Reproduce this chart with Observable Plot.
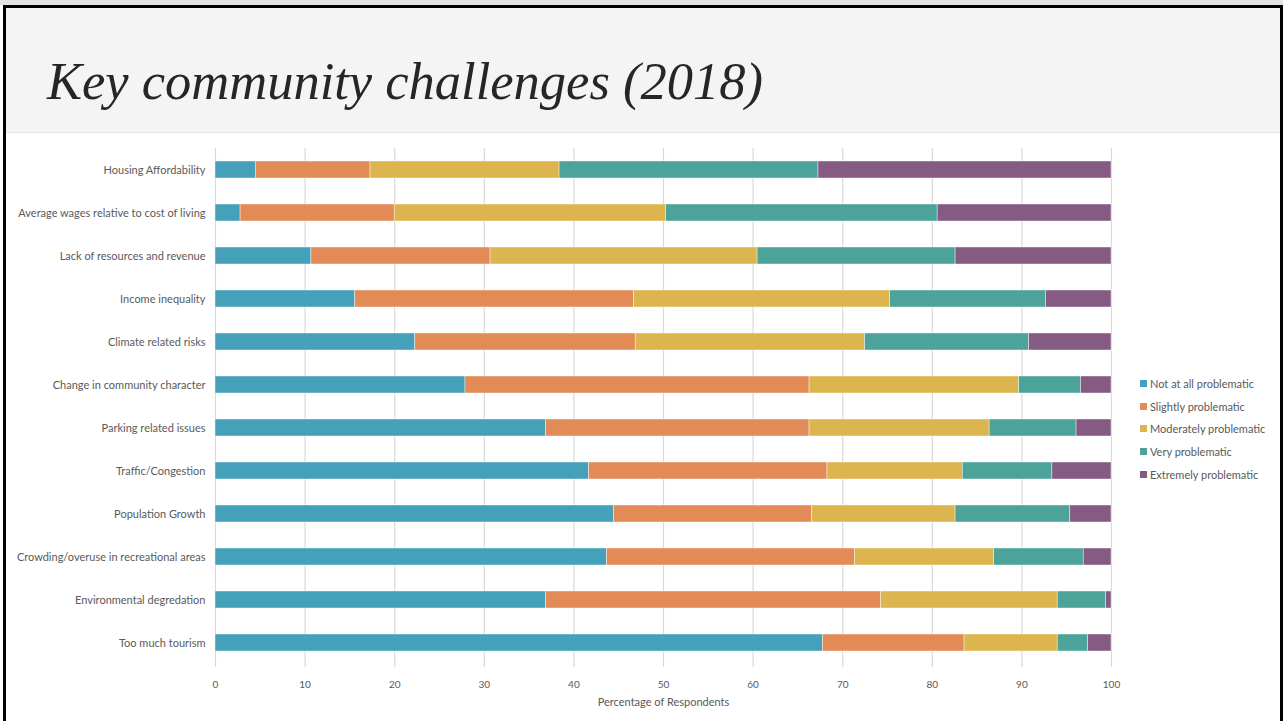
<!DOCTYPE html>
<html>
<head>
<meta charset="utf-8">
<script src="https://cdn.jsdelivr.net/npm/d3@7"></script>
<script src="https://cdn.jsdelivr.net/npm/@observablehq/plot@0.6"></script>
<style>
  html, body { margin: 0; padding: 0; background: #fff; }
  #slide { position: relative; width: 1283px; height: 721px; overflow: hidden; background: #fff; }
  #topstrip { position: absolute; left: 0; top: 0; width: 1283px; height: 5px; background: #e4e4e4; }
  #frame { position: absolute; left: 3px; top: 5px; width: 1274px; height: 730px; border-left: 3px solid #000; border-top: 3px solid #000; border-right: 3px solid #000; }
  #header { position: absolute; left: 6px; top: 8px; width: 1274px; height: 124px; background: #f4f4f4; border-bottom: 1.5px solid #e3e3e3; }
  #title { position: absolute; left: 47px; top: 55px; font-family: "Liberation Serif", serif; font-style: italic; font-size: 53px; color: #262626; white-space: nowrap; transform-origin: 0 0; line-height: 1; }
  #chart { position: absolute; left: 0; top: 133px; }
  #legend { position: absolute; left: 1140px; top: 372px; font-family: Lato, "Open Sans", sans-serif; font-size: 11px; color: #595959; }
  .li { height: 22.75px; display: flex; align-items: center; white-space: nowrap; }
  .sw { width: 7px; height: 7px; margin-right: 3px; flex: none; }
</style>
</head>
<body>
<div id="slide">
  <div id="topstrip"></div>
  <div id="header"></div>
  <div id="frame"></div>
  <div id="title">Key community challenges (2018)</div>
  <div id="chart"></div>
  <div id="legend"></div>
</div>
<script>
const categories = [
  "Housing Affordability",
  "Average wages relative to cost of living",
  "Lack of resources and revenue",
  "Income inequality",
  "Climate related risks",
  "Change in community character",
  "Parking related issues",
  "Traffic/Congestion",
  "Population Growth",
  "Crowding/overuse in recreational areas",
  "Environmental degredation",
  "Too much tourism"
];
const seriesNames = [
  "Not at all problematic",
  "Slightly problematic",
  "Moderately problematic",
  "Very problematic",
  "Extremely problematic"
];
const notAtAll   = [4.5, 2.8, 10.7, 15.6, 22.3, 27.9, 36.9, 41.7, 44.5, 43.7, 36.9, 67.8];
const slightly   = [12.8, 17.2, 20.0, 31.1, 24.6, 38.4, 29.4, 26.6, 22.1, 27.7, 37.4, 15.8];
const moderately = [21.1, 30.3, 29.8, 28.6, 25.6, 23.4, 20.1, 15.1, 16.0, 15.5, 19.7, 10.4];
const very       = [28.9, 30.3, 22.1, 17.4, 18.3, 6.9, 9.7, 10.0, 12.8, 10.0, 5.4, 3.4];
const extremely  = [32.7, 19.4, 17.4, 7.3, 9.2, 3.4, 3.9, 6.6, 4.6, 3.1, 0.6, 2.6];
const colors = ["#45a0b9", "#e38b57", "#ddb54f", "#4ba39a", "#855b83"];
const xTicks = [0, 10, 20, 30, 40, 50, 60, 70, 80, 90, 100];
const xLabel = "Percentage of Respondents";

const seriesValues = [notAtAll, slightly, moderately, very, extremely];
const rows = [];
seriesNames.forEach((s, si) => {
  categories.forEach((c, ci) => {
    rows.push({category: c, series: s, value: seriesValues[si][ci]});
  });
});

const chart = Plot.plot({
  width: 1283,
  height: 588,
  marginLeft: 215,
  marginRight: 172,
  marginTop: 15,
  marginBottom: 54,
  style: {fontFamily: "Lato, 'Open Sans', sans-serif", fontSize: "11px", color: "#595959", background: "transparent"},
  x: {domain: [0, 100], ticks: xTicks, label: xLabel},
  y: {domain: categories, paddingInner: 0.6, paddingOuter: 0.3, align: 0.46, label: null},
  color: {domain: seriesNames, range: colors},
  marks: [
    Plot.gridX(xTicks, {stroke: "#d9d9d9", strokeOpacity: 1, strokeWidth: 1.2}),
    Plot.barX(rows, Plot.stackX({y: "category", x: "value", fill: "series", stroke: "#ffffff", strokeWidth: 0.6, strokeOpacity: 0.7})),
    Plot.axisX({ticks: xTicks, tickSize: 0, tickPadding: 13, fontSize: 10, label: null}),
    Plot.axisX({ticks: [], tickSize: 0, fontSize: 11, label: xLabel, labelAnchor: "center", labelArrow: "none", labelOffset: 38}),
    Plot.axisY({tickSize: 0, tickPadding: 10, fontSize: 11, label: null, fill: "#5a5a5a"})
  ]
});
document.getElementById("chart").appendChild(chart);

const legend = document.getElementById("legend");
seriesNames.forEach((s, i) => {
  const d = document.createElement("div");
  d.className = "li";
  d.innerHTML = `<span class="sw" style="background:${colors[i]}"></span><span>${s}</span>`;
  legend.appendChild(d);
});

const title = document.getElementById("title");
const w = title.getBoundingClientRect().width;
title.style.transform = `scaleX(${716 / w})`;
</script>
</body>
</html>
